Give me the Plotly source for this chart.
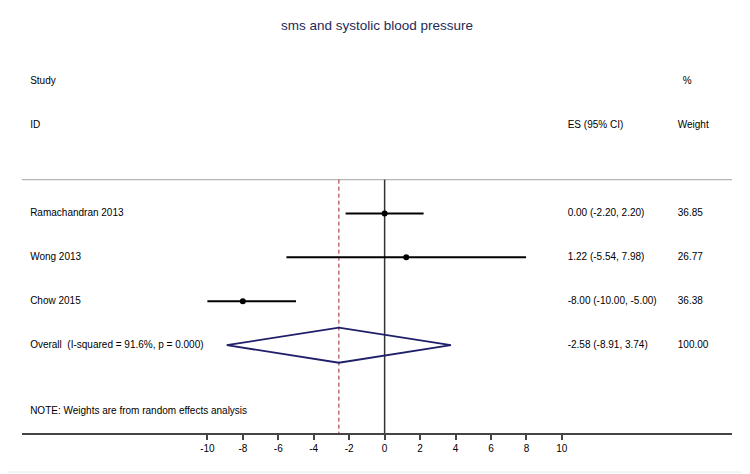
import plotly.graph_objs as go

# Forest plot data
studies = ["Ramachandran 2013", "Wong 2013", "Chow 2015"]
es = [0.00, 1.22, -8.00]
ci_low = [-2.20, -5.54, -10.00]
ci_high = [2.20, 7.98, -5.00]
weights = [36.85, 26.77, 36.38]

overall_label = "Overall  (I-squared = 91.6%, p = 0.000)"
overall_es = -2.58
overall_low = -8.91
overall_high = 3.74
overall_weight = 100.00

note = "NOTE: Weights are from random effects analysis"
tick_vals = [-10, -8, -6, -4, -2, 0, 2, 4, 6, 8, 10]
tick_text = [str(v) for v in tick_vals]  # plain hyphen minus like the original

# row positions (row units, top to bottom)
study_rows = [3, 4, 5]
overall_row = 6
sep_row = 2.23
axis_row = 8.0

FONT = "Liberation Sans, Arial, sans-serif"
X_MIN, X_MAX = -20.46, 19.6
X_LABEL, X_ES, X_W = -20.0, 10.33, 16.54

# page body adds an 8px offset, so margins are shifted to compensate
OFF = 8

fig = go.Figure()

# separator line and reference lines
fig.add_trace(go.Scatter(x=[X_MIN, X_MAX], y=[sep_row, sep_row], mode="lines",
                         line=dict(color="#b5b5b5", width=1.2), hoverinfo="skip"))
fig.add_trace(go.Scatter(x=[0, 0], y=[sep_row, axis_row], mode="lines",
                         line=dict(color="#333333", width=1.5), hoverinfo="skip"))
fig.add_trace(go.Scatter(x=[overall_es, overall_es], y=[sep_row, axis_row], mode="lines",
                         line=dict(color="#a0202a", width=1, dash="4px,3px"), hoverinfo="skip"))

# confidence intervals
for lo, hi, r in zip(ci_low, ci_high, study_rows):
    fig.add_trace(go.Scatter(x=[lo, hi], y=[r, r], mode="lines",
                             line=dict(color="black", width=2), hoverinfo="skip"))
fig.add_trace(go.Scatter(x=es, y=study_rows, mode="markers",
                         marker=dict(color="black", size=6), hoverinfo="skip"))

# overall diamond
half = 0.4
fig.add_trace(go.Scatter(
    x=[overall_low, overall_es, overall_high, overall_es, overall_low],
    y=[overall_row, overall_row - half, overall_row, overall_row + half, overall_row],
    mode="lines", line=dict(color="#1f1f6b", width=1.8), hoverinfo="skip"))

# text columns
txt_font = dict(family=FONT, size=10, color="black")
left_text = ["Study", "ID"] + studies + [overall_label, note]
left_rows = [0, 1] + study_rows + [overall_row, 7.5]
fig.add_trace(go.Scatter(x=[X_LABEL] * len(left_text), y=left_rows, text=left_text,
                         mode="text", textposition="middle right", textfont=txt_font,
                         hoverinfo="skip"))

es_text = ["ES (95% CI)"] + [f"{e:.2f} ({l:.2f}, {h:.2f})" for e, l, h in zip(es, ci_low, ci_high)] \
    + [f"{overall_es:.2f} ({overall_low:.2f}, {overall_high:.2f})"]
fig.add_trace(go.Scatter(x=[X_ES] * len(es_text), y=[1] + study_rows + [overall_row], text=es_text,
                         mode="text", textposition="middle right", textfont=txt_font,
                         hoverinfo="skip"))

w_text = ["%", "Weight"] + [f"{w:.2f}" for w in weights] + [f"{overall_weight:.2f}"]
w_x = [X_W + 0.28] + [X_W] * (len(w_text) - 1)
fig.add_trace(go.Scatter(x=w_x, y=[0, 1] + study_rows + [overall_row], text=w_text,
                         mode="text", textposition="middle right", textfont=txt_font,
                         hoverinfo="skip"))

fig.update_layout(
    width=750, height=474,
    margin=dict(l=22 - OFF, r=18 + OFF, t=40 - OFF, b=41 + OFF),
    paper_bgcolor="white", plot_bgcolor="white",
    showlegend=False,
    title=dict(text="sms and systolic blood pressure", x=(377 - OFF) / 750, xanchor="center",
               xref="container", y=1 - (25 - OFF) / 474, yanchor="middle",
               font=dict(family=FONT, size=13.5, color="#1e2a5a")),
    xaxis=dict(range=[X_MIN, X_MAX], showgrid=False, zeroline=False,
               showline=True, linecolor="#444444", linewidth=1.5,
               ticks="outside", ticklen=5, tickwidth=1.5, tickcolor="#444444",
               tickvals=tick_vals, ticktext=tick_text,
               tickfont=dict(family=FONT, size=10, color="black")),
    yaxis=dict(range=[axis_row, -0.95], visible=False, showgrid=False, zeroline=False),
    shapes=[dict(type="rect", xref="paper", yref="paper",
                 x0=-21 / 710, x1=726 / 710, y0=-39 / 393, y1=432 / 393,
                 line=dict(color="#e4ecec", width=1), fillcolor="rgba(0,0,0,0)")],
)

fig.write_html("out.html")
